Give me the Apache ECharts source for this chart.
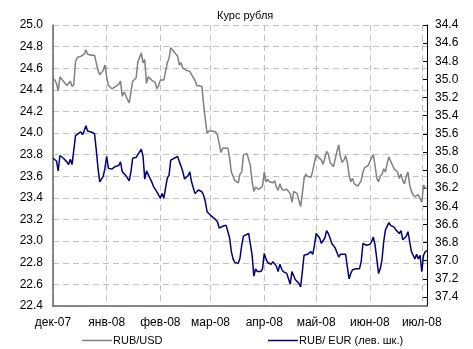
<!DOCTYPE html>
<html>
<head>
<meta charset="utf-8">
<script src="https://cdn.jsdelivr.net/npm/echarts@6/dist/echarts.min.js"></script>
<style>
  html, body { margin: 0; padding: 0; background: #fff; }
  #chart { width: 473px; height: 349px; }
</style>
</head>
<body>
<div id="chart"></div>
<script>
// день = число дней от 01.12.2007
var dayCount = 217;
var monthNames = ["янв", "фев", "мар", "апр", "май", "июн", "июл", "авг", "сен", "окт", "ноя", "дек"];

var usdDays = [0, 1, 2, 3, 4, 6, 8, 9, 10, 11, 12, 13, 14, 16, 17, 18, 19, 20, 22, 24, 25, 26, 27, 29, 30,
  31, 32, 34, 36, 38, 39, 40, 41, 42, 43, 44, 45, 46, 48, 49, 51, 52, 53, 54, 55, 56, 57, 58, 59, 60,
  61, 62, 63, 64, 65, 66, 67, 68, 70, 72, 73, 74, 75, 77, 79, 80, 82, 83, 84, 86, 87, 88, 89, 90, 92,
  94, 95, 96, 97, 98, 99, 101, 102, 103, 104, 105, 107, 108, 109, 110, 111, 112, 113, 114, 115, 116, 117, 119, 120,
  121, 122, 123, 124, 125, 127, 128, 129, 130, 131, 132, 133, 135, 137, 138, 139, 141, 142, 143, 144, 145,
  146, 147, 148, 149, 150, 151, 152, 153, 154, 155, 156, 157, 158, 159, 160, 161, 162, 163, 164, 165,
  166, 167, 168, 169, 170, 171, 172, 173, 174, 176, 177, 178, 179, 180, 181, 182, 183, 184, 185, 186,
  187, 188, 189, 190, 191, 192, 193, 194, 195, 197, 199, 200, 201, 202, 203, 204, 205, 206, 207, 208,
  209, 211, 212, 213, 214, 215, 216];
var usdValues = [24.51, 24.49, 24.46, 24.39, 24.52, 24.48, 24.44, 24.43, 24.48, 24.43, 24.45, 24.66, 24.70, 24.71, 24.70, 24.73, 24.77, 24.73, 24.72, 24.72, 24.65, 24.58, 24.54, 24.58, 24.63,
  24.52, 24.44, 24.41, 24.43, 24.45, 24.48, 24.34, 24.38, 24.35, 24.31, 24.28, 24.38, 24.48, 24.51, 24.66, 24.74, 24.65, 24.68, 24.46, 24.52, 24.51, 24.49, 24.48, 24.47, 24.41,
  24.44, 24.49, 24.49, 24.49, 24.50, 24.65, 24.69, 24.79, 24.75, 24.71, 24.63, 24.65, 24.60, 24.58, 24.57, 24.54, 24.49, 24.44, 24.44, 24.43, 24.26, 24.12, 24.00, 24.02, 24.02,
  24.01, 23.98, 23.90, 23.82, 23.86, 23.86, 23.86, 23.77, 23.64, 23.60, 23.56, 23.54, 23.62, 23.64, 23.80, 23.81, 23.81, 23.80, 23.70, 23.55, 23.46, 23.50, 23.48, 23.49,
  23.51, 23.64, 23.55, 23.57, 23.55, 23.54, 23.56, 23.50, 23.47, 23.53, 23.49, 23.47, 23.48, 23.44, 23.36, 23.46, 23.44, 23.43, 23.32, 23.44, 23.58,
  23.62, 23.60, 23.60, 23.59, 23.65, 23.73, 23.80, 23.78, 23.77, 23.75, 23.71, 23.77, 23.83, 23.81, 23.73, 23.71, 23.69, 23.70, 23.83, 23.89,
  23.78, 23.73, 23.75, 23.79, 23.73, 23.61, 23.55, 23.58, 23.53, 23.51, 23.51, 23.56, 23.64, 23.68, 23.69, 23.70, 23.70, 23.77, 23.80, 23.70,
  23.58, 23.55, 23.60, 23.62, 23.67, 23.64, 23.72, 23.78, 23.74, 23.67, 23.64, 23.58, 23.62, 23.56, 23.53, 23.60, 23.64, 23.52, 23.46, 23.43,
  23.41, 23.43, 23.43, 23.36, 23.52, 23.49, 23.49];

var eurDays = [0, 1, 2, 3, 4, 6, 8, 9, 10, 11, 12, 13, 14, 16, 17, 18, 19, 20, 22, 24, 25, 26, 27, 29, 30,
  31, 32, 34, 36, 38, 39, 40, 41, 42, 43, 44, 45, 46, 48, 49, 51, 52, 53, 54, 55, 56, 57, 58, 59, 60,
  61, 62, 63, 64, 65, 66, 67, 68, 70, 72, 73, 74, 75, 76, 77, 78, 79, 80, 81, 82, 83, 84, 86, 87, 88,
  89, 90, 91, 93, 94, 95, 96, 97, 98, 100, 101, 102, 103, 104, 105, 107, 108, 109, 110, 111, 113, 114, 115, 116,
  117, 118, 120, 121, 122, 123, 124, 125, 126, 127, 128, 129, 130, 131, 132, 133, 134, 135, 136, 137, 138,
  139, 140, 141, 142, 143, 144, 145, 146, 147, 148, 149, 150, 151, 152, 153, 154, 155, 156, 157, 158,
  159, 160, 161, 162, 163, 165, 166, 167, 169, 170, 171, 172, 173, 175, 177, 178, 179, 180, 181, 182,
  183, 184, 185, 186, 187, 188, 189, 190, 191, 192, 193, 194, 195, 197, 198, 199, 200, 201, 202, 204,
  205, 206, 207, 208, 209, 210, 211, 212, 213, 214, 215, 216];
var eurValues = [35.87, 35.88, 35.90, 36.01, 35.84, 35.87, 35.91, 35.94, 35.88, 35.94, 35.93, 35.62, 35.60, 35.58, 35.61, 35.57, 35.51, 35.57, 35.58, 35.60, 35.78, 35.98, 36.13, 36.07, 35.98,
  35.85, 35.98, 35.99, 35.96, 35.95, 35.91, 36.02, 36.02, 36.06, 36.09, 36.12, 36.02, 35.87, 35.86, 35.83, 35.77, 35.85, 36.10, 36.01, 36.02, 36.09, 36.13, 36.18, 36.17, 36.24,
  36.26, 36.31, 36.26, 36.31, 36.32, 36.09, 36.06, 35.89, 35.87, 35.85, 35.91, 35.96, 36.02, 36.10, 36.09, 36.06, 36.02, 36.13, 36.11, 36.26, 36.24, 36.22, 36.24, 36.28, 36.35,
  36.46, 36.47, 36.50, 36.53, 36.55, 36.57, 36.64, 36.63, 36.62, 36.61, 36.63, 36.75, 36.90, 36.98, 37.02, 37.03, 36.97, 36.83, 36.73, 36.71, 36.70, 36.71, 36.94, 37.17,
  37.09, 37.12, 37.12, 37.09, 36.92, 36.98, 37.02, 37.02, 37.04, 37.01, 37.02, 37.06, 37.12, 37.04, 37.09, 37.12, 37.12, 37.14, 37.14, 37.26, 37.12,
  37.12, 37.21, 37.20, 37.25, 37.29, 37.12, 36.94, 36.93, 36.93, 36.94, 36.90, 36.93, 36.83, 36.70, 36.72, 36.75, 36.81, 36.83, 36.75, 36.67,
  36.70, 36.75, 36.81, 36.83, 36.86, 36.96, 36.93, 36.91, 36.93, 37.07, 37.20, 37.14, 37.10, 37.09, 37.09, 37.01, 36.81, 36.79, 36.83, 36.83,
  36.82, 36.79, 36.74, 36.83, 36.98, 37.14, 37.09, 36.99, 36.79, 36.66, 36.64, 36.58, 36.61, 36.63, 36.66, 36.64, 36.70, 36.67, 36.77, 36.73,
  36.68, 36.79, 36.90, 36.94, 36.98, 36.93, 36.98, 36.94, 37.12, 36.94, 36.90, 36.89];

var FONT = "Liberation Sans, Arial, sans-serif";
var dashed = { color: "#c0c0c0", width: 1, type: [6, 4] };

// подписи дней по оси X
var dayLabels = [];
var monthStart = [];
for (var i = 0; i < dayCount; i++) {
  var d = new Date(2007, 11, 1 + i);
  dayLabels.push(monthNames[d.getMonth()] + "-" + String(d.getFullYear()).slice(2));
  monthStart.push(d.getDate() === 1);
}

function pairs(days, values) {
  return days.map(function (day, k) { return [day, values[k]]; });
}

function legendFor(name, left) {
  return {
    data: [name],
    left: left,
    top: 330,
    icon: "rect",
    itemWidth: 30,
    itemHeight: 1.5,
    itemGap: 0,
    textStyle: { fontFamily: FONT, fontSize: 11, color: "#000", padding: [0, 0, 0, -4] },
  };
}

var myChart = echarts.init(document.getElementById("chart"), null, { renderer: "canvas" });
var option = {
  animation: false,
  title: {
    text: "Курс рубля",
    left: 212,
    top: 5,
    textStyle: { fontFamily: FONT, fontSize: 11, fontWeight: "normal", color: "#000" },
  },
  legend: [legendFor("RUB/USD", 77), legendFor("RUB/ EUR (лев. шк.)", 263)],
  grid: { left: 53, right: 46, top: 25, bottom: 43, containLabel: false },
  xAxis: [
    {
      type: "category",
      data: dayLabels,
      boundaryGap: false,
      axisLine: { onZero: false, lineStyle: { color: "#666", width: 1.5 } },
      axisTick: { show: false },
      axisLabel: {
        interval: function (idx) { return monthStart[idx]; },
        color: "#000",
        fontFamily: FONT,
        fontSize: 12,
        margin: 11,
      },
      splitLine: {
        show: true,
        interval: function (idx) { return monthStart[idx]; },
        lineStyle: dashed,
      },
    },
    { type: "value", min: 0, max: dayCount - 1, show: false },
  ],
  yAxis: [
    {
      type: "value",
      position: "left",
      min: 22.4,
      max: 25.0,
      interval: 0.2,
      axisLine: { show: true, onZero: false, lineStyle: { color: "#666", width: 1.5 } },
      axisTick: { show: false },
      axisLabel: {
        color: "#000",
        fontFamily: FONT,
        fontSize: 12,
        margin: 10,
        formatter: function (v) { return v.toFixed(1); },
      },
      splitLine: { show: true, lineStyle: dashed },
    },
    {
      type: "value",
      position: "right",
      inverse: true,
      min: 34.4,
      max: 37.5,
      interval: 0.2,
      axisLine: { show: true, onZero: false, lineStyle: { color: "#000", width: 1 } },
      axisTick: { show: true, inside: true, length: 4, lineStyle: { color: "#000" } },
      axisLabel: {
        color: "#000",
        fontFamily: FONT,
        fontSize: 12,
        margin: 8,
        showMaxLabel: false,
        formatter: function (v) { return v.toFixed(1); },
      },
      splitLine: { show: false },
    },
  ],
  series: [
    {
      name: "RUB/USD",
      type: "line",
      xAxisIndex: 1,
      yAxisIndex: 0,
      symbol: "none",
      data: pairs(usdDays, usdValues),
      lineStyle: { color: "#808080", width: 1.5 },
      itemStyle: { color: "#808080" },
    },
    {
      name: "RUB/ EUR (лев. шк.)",
      type: "line",
      xAxisIndex: 1,
      yAxisIndex: 1,
      symbol: "none",
      data: pairs(eurDays, eurValues),
      lineStyle: { color: "#000080", width: 1.5 },
      itemStyle: { color: "#000080" },
    },
  ],
};
myChart.setOption(option);
</script>
</body>
</html>
